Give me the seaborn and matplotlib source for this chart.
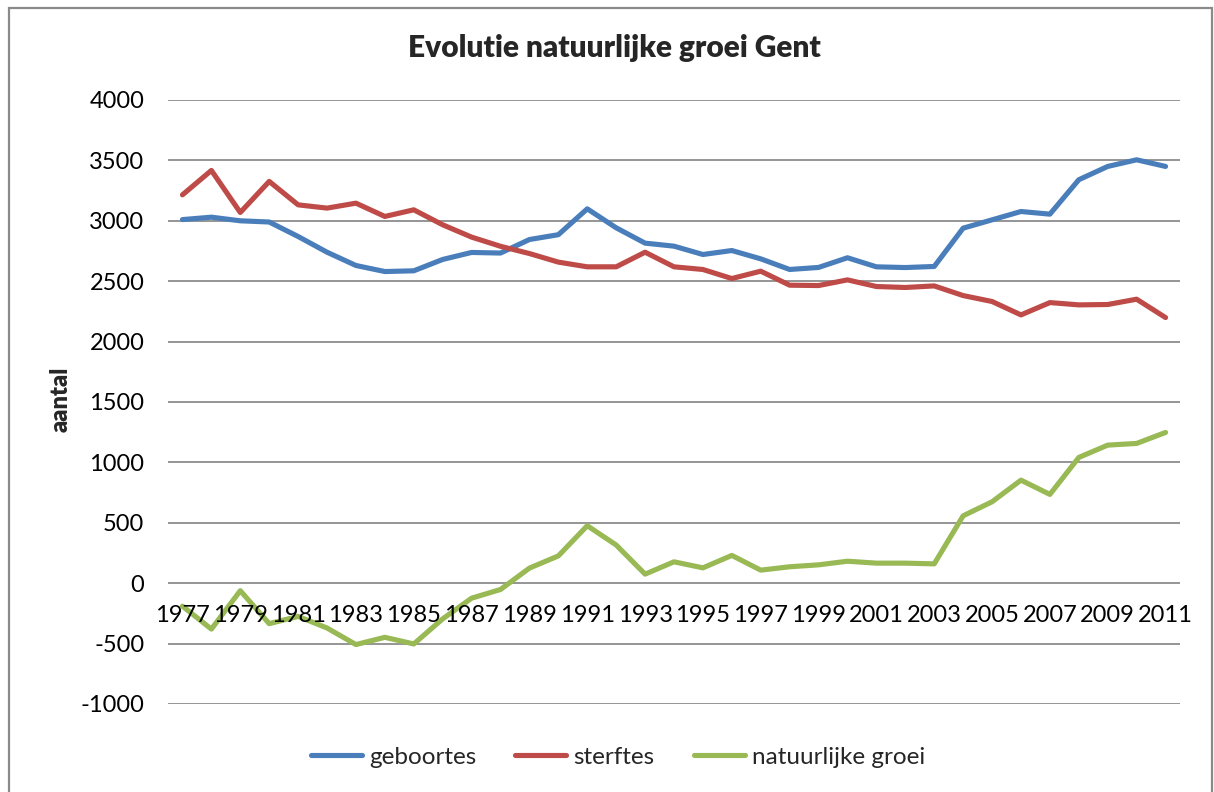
import pandas as pd
import matplotlib.pyplot as plt
import seaborn as sns
from matplotlib.patches import Rectangle
from matplotlib.lines import Line2D

# ==============================================
# DATOS
# ==============================================
jaren = list(range(1977, 2012))

geboortes = [3010, 3030, 3000, 2990, 2870, 2740, 2630, 2580, 2586, 2680,
             2738, 2733, 2845, 2885, 3099, 2942, 2815, 2790, 2721, 2754,
             2685, 2597, 2614, 2694, 2619, 2613, 2622, 2939, 3008, 3077,
             3055, 3340, 3450, 3505, 3450]

sterftes = [3215, 3417, 3069, 3326, 3132, 3105, 3146, 3036, 3091, 2967,
            2865, 2789, 2729, 2658, 2619, 2619, 2740, 2619, 2597, 2522,
            2583, 2467, 2464, 2511, 2456, 2448, 2461, 2381, 2332, 2221,
            2323, 2304, 2307, 2351, 2199]

natuurlijke_groei = [-190, -380, -62, -335, -275, -371, -508, -448, -503, -295,
                     -124, -52, 125, 226, 476, 316, 75, 177, 127, 230,
                     108, 136, 152, 182, 166, 166, 160, 558, 674, 853,
                     735, 1041, 1143, 1157, 1248]

reeksen = ['geboortes', 'sterftes', 'natuurlijke groei']
kleuren = ['#4A7EBB', '#BE4B48', '#98B954']

df = pd.DataFrame({
    'idx': list(range(len(jaren))) * 3,
    'waarde': geboortes + sterftes + natuurlijke_groei,
    'reeks': [r for r in reeksen for _ in jaren],
})

# ==============================================
# ESTILO
# ==============================================
sns.set_style('white')
plt.rcParams['font.family'] = ['Lato', 'DejaVu Sans']
plt.rcParams['axes.unicode_minus'] = False

W, H = 1214, 792
fig = plt.figure(figsize=(W / 100, H / 100), dpi=100)

# marco exterior del gráfico
fig.patches.append(Rectangle((8.5 / W, -0.05), (1211.5 - 8.5) / W, 1 - 8 / H + 0.05,
                             transform=fig.transFigure, fill=False,
                             edgecolor='#8a8a8a', linewidth=1.6))

ax = fig.add_axes([168 / W, 1 - 704 / H, (1180 - 168) / W, (704 - 100) / H])

sns.lineplot(data=df, x='idx', y='waarde', hue='reeks', hue_order=reeksen,
             palette=kleuren, linewidth=3.7, legend=False, ax=ax,
             solid_capstyle='round', solid_joinstyle='round', zorder=3)

ax.set_xlim(-0.5, len(jaren) - 0.5)
ax.set_ylim(-1000, 4000)
ax.set_yticks(range(-1000, 4001, 500))
ax.yaxis.grid(True, color='#8c8c8c', linewidth=1.3, zorder=1)
ax.set_axisbelow(True)

for s in ax.spines.values():
    s.set_visible(False)

# categorías sobre la línea del cero
ax.set_xticks([])
for i in range(0, len(jaren), 2):
    ax.annotate(str(jaren[i]), xy=(i, 0), xycoords='data',
                xytext=(0, -16), textcoords='offset points',
                ha='center', va='top', fontsize=17, color='black', zorder=4)

ax.tick_params(axis='y', length=0, pad=17, labelsize=17, labelcolor='black')
ax.set_xlabel('')
ax.set_ylabel('')

fig.text(614 / W, 1 - 57 / H, 'Evolutie natuurlijke groei Gent',
         ha='center', va='baseline', fontsize=21.5, fontweight='heavy')
fig.text(61 / W, 1 - 399 / H, 'aantal', rotation=90, ha='center', va='center',
         fontsize=17, fontweight='heavy')

handles = [Line2D([], [], color=c, linewidth=3.7, solid_capstyle='round') for c in kleuren]
fig.legend(handles, reeksen, loc='center', bbox_to_anchor=(618 / W, 1 - 757 / H),
           ncol=3, frameon=False, fontsize=17.5, handlelength=2.1,
           handletextpad=0.3, columnspacing=1.6)

plt.savefig('out.png', dpi=100)
